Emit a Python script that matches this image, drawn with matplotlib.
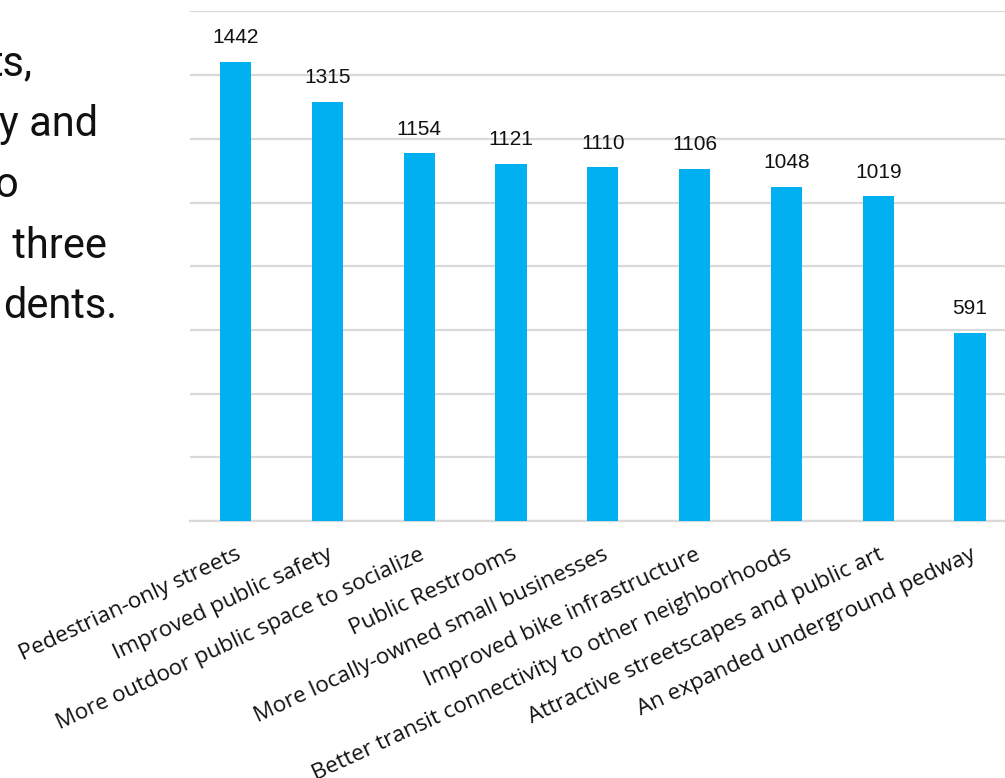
import matplotlib
matplotlib.use("Agg")
import matplotlib.pyplot as plt

categories = [
    "Pedestrian-only streets",
    "Improved public safety",
    "More outdoor public space to socialize",
    "Public Restrooms",
    "More locally-owned small businesses",
    "Improved bike infrastructure",
    "Better transit connectivity to other neighborhoods",
    "Attractive streetscapes and public art",
    "An expanded underground pedway",
]
values = [1442, 1315, 1154, 1121, 1110, 1106, 1048, 1019, 591]
yticks = [0, 200, 400, 600, 800, 1000, 1200, 1400, 1600]

side_lines = ["ts,", "y and", "o", " three", "dents."]

W, H = 1005, 778
fig = plt.figure(figsize=(W / 100, H / 100), dpi=100)

left_px, right_px = 189.6, 1016.0
base_px, top_px = 521.0, 11.4
ax = fig.add_axes([left_px / W, 1 - base_px / H,
                   (right_px - left_px) / W, (base_px - top_px) / H])

x = list(range(len(categories)))
bars = ax.bar(x, values, width=0.34, color="#00B0F0", zorder=3)
ax.set_xlim(-0.5, len(categories) - 0.5)
ax.set_ylim(0, 1600)
ax.set_yticks(yticks)
ax.yaxis.grid(True, color="#D9D9D9", linewidth=1.6, zorder=0)
ax.tick_params(axis="y", left=False, labelleft=False)
ax.tick_params(axis="x", bottom=False, pad=13)
for s in ["top", "right", "left"]:
    ax.spines[s].set_visible(False)
ax.spines["bottom"].set_color("#D9D9D9")
ax.spines["bottom"].set_linewidth(1.6)

ax.set_xticks(x)
ax.set_xticklabels(categories, rotation=25, ha="right", va="top",
                   rotation_mode="anchor", fontsize=16.2,
                   family="Open Sans", color="#111111")

for xi, v in zip(x, values):
    ax.annotate(str(v), (xi, v), xytext=(0, 13.5), textcoords="offset points",
                ha="center", va="baseline", fontsize=15,
                family="Liberation Sans", color="#111111")

right_ends = [33, 98, 18, 107, 117]
baselines = [76, 136, 197, 258, 318]
for txt, xr, yb in zip(side_lines, right_ends, baselines):
    fig.text(xr / W, 1 - yb / H, txt, ha="right", va="baseline",
             fontsize=30, family="Roboto", color="#111111")

fig.savefig("out.png", dpi=100)
